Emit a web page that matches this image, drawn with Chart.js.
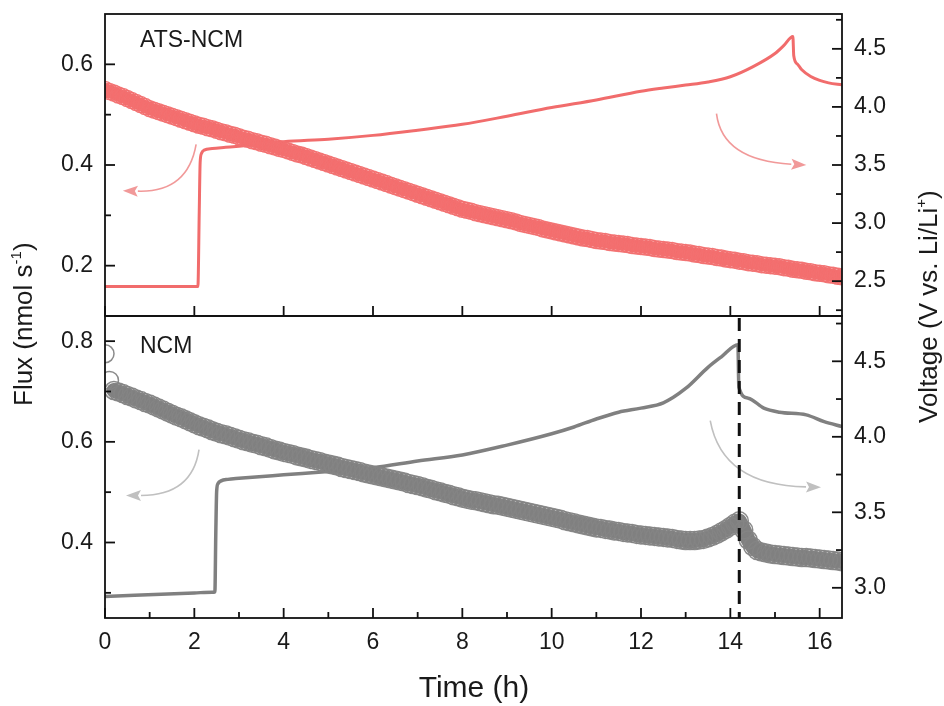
<!DOCTYPE html>
<html><head><meta charset="utf-8">
<script src="https://cdn.jsdelivr.net/npm/chart.js@4.4.1/dist/chart.umd.min.js"></script>
<style>
html,body{margin:0;padding:0;background:#fff;}
#wrap{position:relative;width:944px;height:706px;}
canvas{position:absolute;left:0;top:0;}
</style>
</head><body>
<div id="wrap"><canvas id="cTop" width="944" height="706"></canvas><canvas id="cBot" width="944" height="706"></canvas></div>
<script>
// ---------------- DATA ----------------
const TIME_FLUX = [
0,0.1,0.2,0.3,0.4,0.5,0.6,0.7,0.8,0.9,
1,1.1,1.2,1.3,1.4,1.5,1.6,1.7,1.8,1.9,
2,2.1,2.2,2.3,2.4,2.5,2.6,2.7,2.8,2.9,
3,3.1,3.2,3.3,3.4,3.5,3.6,3.7,3.8,3.9,
4,4.1,4.2,4.3,4.4,4.5,4.6,4.7,4.8,4.9,
5,5.1,5.2,5.3,5.4,5.5,5.6,5.7,5.8,5.9,
6,6.1,6.2,6.3,6.4,6.5,6.6,6.7,6.8,6.9,
7,7.1,7.2,7.3,7.4,7.5,7.6,7.7,7.8,7.9,
8,8.1,8.2,8.3,8.4,8.5,8.6,8.7,8.8,8.9,
9,9.1,9.2,9.3,9.4,9.5,9.6,9.7,9.8,9.9,
10,10.1,10.2,10.3,10.4,10.5,10.6,10.7,10.8,10.9,
11,11.1,11.2,11.3,11.4,11.5,11.6,11.7,11.8,11.9,
12,12.1,12.2,12.3,12.4,12.5,12.6,12.7,12.8,12.9,
13,13.1,13.2,13.3,13.4,13.5,13.6,13.7,13.8,13.9,
14,14.1,14.2,14.3,14.4,14.5,14.6,14.7,14.8,14.9,
15,15.1,15.2,15.3,15.4,15.5,15.6,15.7,15.8,15.9,
16,16.1,16.2,16.3,16.4,16.5];

const FLUX_ATS = [
0.550,0.546,0.543,0.539,0.536,0.532,0.528,0.524,0.520,0.516,
0.512,0.509,0.506,0.503,0.500,0.497,0.494,0.491,0.488,0.485,
0.482,0.479,0.477,0.474,0.472,0.469,0.466,0.464,0.461,0.459,
0.456,0.453,0.451,0.448,0.446,0.443,0.441,0.438,0.436,0.433,
0.431,0.428,0.425,0.422,0.420,0.417,0.414,0.411,0.408,0.405,
0.402,0.399,0.396,0.393,0.390,0.387,0.384,0.381,0.378,0.375,
0.372,0.369,0.366,0.363,0.360,0.357,0.354,0.351,0.348,0.345,
0.342,0.339,0.336,0.333,0.330,0.327,0.324,0.321,0.318,0.315,
0.312,0.310,0.308,0.305,0.303,0.301,0.299,0.297,0.295,0.293,
0.291,0.289,0.287,0.284,0.282,0.280,0.278,0.276,0.273,0.271,
0.269,0.267,0.265,0.263,0.261,0.259,0.257,0.255,0.254,0.252,
0.250,0.249,0.248,0.246,0.245,0.244,0.243,0.242,0.240,0.239,
0.238,0.237,0.236,0.234,0.233,0.232,0.231,0.230,0.228,0.227,
0.226,0.225,0.223,0.222,0.220,0.219,0.218,0.216,0.215,0.213,
0.212,0.211,0.209,0.208,0.206,0.205,0.204,0.202,0.201,0.200,
0.199,0.198,0.196,0.195,0.193,0.192,0.191,0.189,0.188,0.186,
0.185,0.184,0.182,0.181,0.179,0.178];

const FLUX_NCM = [
0.775,0.722,0.702,0.699,0.696,0.692,0.689,0.685,0.682,0.678,
0.675,0.671,0.667,0.663,0.659,0.655,0.651,0.648,0.644,0.640,
0.636,0.632,0.629,0.626,0.622,0.619,0.616,0.614,0.611,0.608,
0.605,0.602,0.600,0.597,0.595,0.592,0.590,0.587,0.584,0.582,
0.579,0.577,0.575,0.572,0.570,0.568,0.565,0.563,0.561,0.558,
0.556,0.554,0.552,0.549,0.547,0.545,0.543,0.541,0.538,0.536,
0.534,0.532,0.530,0.528,0.526,0.524,0.522,0.520,0.517,0.515,
0.513,0.511,0.508,0.506,0.503,0.501,0.498,0.496,0.493,0.491,
0.488,0.486,0.484,0.483,0.481,0.479,0.477,0.475,0.474,0.472,
0.470,0.468,0.466,0.464,0.462,0.460,0.458,0.456,0.454,0.452,
0.450,0.448,0.446,0.443,0.441,0.439,0.437,0.435,0.433,0.431,
0.429,0.428,0.426,0.425,0.423,0.422,0.420,0.419,0.418,0.416,
0.415,0.414,0.413,0.412,0.411,0.410,0.409,0.408,0.406,0.405,
0.404,0.404,0.404,0.405,0.406,0.409,0.412,0.416,0.421,0.426,
0.432,0.438,0.443,0.425,0.405,0.392,0.384,0.381,0.379,0.377,
0.376,0.375,0.374,0.373,0.372,0.371,0.370,0.370,0.369,0.368,
0.367,0.366,0.365,0.364,0.363,0.362];

const V_ATS_T = [0,2.0,2.08,2.11,2.13,2.16,2.22,2.4,2.7,3.0,3.5,4.0,5.0,6.0,7.0,8.0,9.0,10.0,11.0,12.0,12.5,13.0,13.5,14.0,14.5,15.0,15.2,15.4,15.42,15.5,15.6,15.8,16.0,16.2,16.5];
const V_ATS   = [2.455,2.455,2.455,3.10,3.52,3.60,3.628,3.642,3.652,3.662,3.68,3.70,3.722,3.755,3.80,3.85,3.92,3.995,4.06,4.135,4.163,4.188,4.215,4.26,4.345,4.46,4.53,4.607,4.44,4.37,4.32,4.262,4.228,4.207,4.19];

const V_NCM_T = [0,2.0,2.40,2.46,2.48,2.50,2.53,2.6,2.75,3.0,4.0,5.0,6.0,7.0,8.0,9.0,10.0,10.5,11.0,11.5,12.0,12.5,13.0,13.5,13.8,14.17,14.19,14.4,14.75,15.1,15.7,16.1,16.5];
const V_NCM   = [2.942,2.966,2.971,2.972,3.35,3.64,3.69,3.708,3.718,3.725,3.748,3.77,3.795,3.84,3.88,3.945,4.02,4.065,4.118,4.163,4.19,4.225,4.32,4.46,4.53,4.61,4.33,4.256,4.19,4.163,4.145,4.10,4.068];

const CUTOFF_TIME = 14.2;

const X_TICKS = [0,2,4,6,8,10,12,14,16];
const X_MINOR = [1,3,5,7,9,11,13,15];
const TOP_FLUX_TICKS = [0.2,0.4,0.6];
const TOP_FLUX_MINOR = [0.3,0.5];
const TOP_V_TICKS = [2.5,3.0,3.5,4.0,4.5];
const TOP_V_MINOR = [2.25,2.75,3.25,3.75,4.25,4.75];
const BOT_FLUX_TICKS = [0.4,0.6,0.8];
const BOT_FLUX_MINOR = [0.3,0.5,0.7];
const BOT_V_TICKS = [3.0,3.5,4.0,4.5];
const BOT_V_MINOR = [3.25,3.75,4.25,4.75];

// ---------------- STYLE ----------------
const FONT = "'Liberation Sans', Arial, Helvetica, sans-serif";
const RED = 'rgb(241,108,108)';
const RED_BAND = 'rgb(244,110,110)';
const RED_RING = 'rgba(242,112,112,0.95)';
const RED_ARROW = 'rgba(238,128,128,0.8)';
const GRAY = 'rgb(128,128,128)';
const GRAY_BAND = 'rgb(128,128,128)';
const GRAY_RING = 'rgba(132,132,132,0.95)';
const GRAY_ARROW = 'rgb(192,192,192)';

function pairs(xs, ys){ return xs.map((x,i)=>({x:x, y:ys[i]})); }

function drawArrow(ctx, xs, ys, a, color){
  const p0=[xs.getPixelForValue(a.x0), ys.getPixelForValue(a.y0)];
  const c=[xs.getPixelForValue(a.cx), ys.getPixelForValue(a.cy)];
  const p1=[xs.getPixelForValue(a.x1), ys.getPixelForValue(a.y1)];
  const ang=Math.atan2(p1[1]-c[1], p1[0]-c[0]);
  const L=15, W=5.5;
  const bx=p1[0]-L*Math.cos(ang), by=p1[1]-L*Math.sin(ang);
  ctx.save();
  ctx.strokeStyle=color; ctx.lineWidth=1.6;
  ctx.beginPath(); ctx.moveTo(p0[0],p0[1]); ctx.quadraticCurveTo(c[0],c[1],bx,by); ctx.stroke();
  ctx.fillStyle=color; ctx.beginPath();
  ctx.moveTo(p1[0],p1[1]);
  ctx.lineTo(bx+W*Math.sin(ang), by-W*Math.cos(ang));
  ctx.lineTo(bx+3*Math.cos(ang), by+3*Math.sin(ang));
  ctx.lineTo(bx-W*Math.sin(ang), by+W*Math.cos(ang));
  ctx.closePath(); ctx.fill();
  ctx.restore();
}

function drawRotated(ctx, parts, x, yStart){
  ctx.save();
  ctx.translate(x, yStart); ctx.rotate(-Math.PI/2);
  ctx.textAlign='left'; ctx.textBaseline='alphabetic'; ctx.fillStyle='#1a1a1a';
  let cx=0;
  parts.forEach(p=>{ ctx.font=p.size+'px '+FONT; ctx.fillText(p.t, cx, p.dy||0); cx+=ctx.measureText(p.t).width; });
  ctx.restore();
}

const panelPlugin = {
  id:'panel',
  afterDatasetsDraw(chart, args, o){
    const ctx=chart.ctx, ca=chart.chartArea;
    const xs=chart.scales.x, yl=chart.scales.yL, yr=chart.scales.yR;
    (o.arrows||[]).forEach(a=>drawArrow(ctx, xs, yl, a, o.arrowColor));
    ctx.save();
    if(o.cutoff!=null){
      const x=xs.getPixelForValue(o.cutoff);
      ctx.strokeStyle='#111'; ctx.lineWidth=3; ctx.setLineDash([13,8]);
      ctx.beginPath(); ctx.moveTo(x, ca.top+2); ctx.lineTo(x, ca.bottom); ctx.stroke();
      ctx.setLineDash([]);
    }
    ctx.strokeStyle='#111'; ctx.lineWidth=1.8;
    ctx.strokeRect(ca.left, ca.top, ca.right-ca.left, ca.bottom-ca.top);
    const seg=(x1,y1,x2,y2)=>{ctx.beginPath();ctx.moveTo(x1,y1);ctx.lineTo(x2,y2);ctx.stroke();};
    o.xMajor.forEach(v=>{const x=xs.getPixelForValue(v); seg(x,ca.bottom,x,ca.bottom-10);});
    (o.xMinor||[]).forEach(v=>{const x=xs.getPixelForValue(v); seg(x,ca.bottom,x,ca.bottom-6);});
    o.lMajor.forEach(v=>{const y=yl.getPixelForValue(v); seg(ca.left,y,ca.left+10,y);});
    o.lMinor.forEach(v=>{const y=yl.getPixelForValue(v); seg(ca.left,y,ca.left+6,y);});
    o.rMajor.forEach(v=>{const y=yr.getPixelForValue(v); seg(ca.right,y,ca.right-10,y);});
    o.rMinor.forEach(v=>{const y=yr.getPixelForValue(v); seg(ca.right,y,ca.right-6,y);});
    ctx.fillStyle='#1a1a1a'; ctx.font='23px '+FONT; ctx.textAlign='left'; ctx.textBaseline='alphabetic';
    ctx.fillText(o.label, ca.left+35, ca.top+o.labelDy);
    ctx.restore();
  },
  afterDraw(chart, args, o){
    if(!o.titles) return;
    const ctx=chart.ctx;
    drawRotated(ctx, [{t:'Flux (nmol s',size:26},{t:'-1',size:15,dy:-11},{t:')',size:26}], 32, 406);
    drawRotated(ctx, [{t:'Voltage (V vs. Li/Li',size:26},{t:'+',size:15,dy:-11},{t:')',size:26}], 937, 423);
    ctx.save(); ctx.fillStyle='#1a1a1a'; ctx.font='30px '+FONT; ctx.textAlign='center'; ctx.textBaseline='alphabetic';
    ctx.fillText('Time (h)', 474, 697); ctx.restore();
  }
};

function zeroPad(s){ s.paddingTop=0; s.paddingBottom=0; s.paddingLeft=0; s.paddingRight=0; }

function yScale(pos, min, max, ticks, width){
  return {
    type:'linear', position:pos, min:min, max:max,
    grid:{display:false, drawTicks:false}, border:{display:false},
    afterBuildTicks:s=>{ s.ticks=ticks.map(v=>({value:v})); },
    afterFit:s=>{ s.width=width; zeroPad(s); },
    ticks:{ padding:12, color:'#1a1a1a', font:{family:FONT, size:23}, callback:v=>Number(v).toFixed(1) }
  };
}

function makeChart(id, cfg){
  return new Chart(document.getElementById(id), {
    type:'scatter',
    data:{datasets:[
      {data:pairs(TIME_FLUX, cfg.flux), yAxisID:'yL', showLine:true, borderColor:cfg.band, borderWidth:cfg.bw,
       borderCapStyle:'round', borderJoinStyle:'round', tension:0,
       segment:{borderColor:c=>(cfg.skipStart && c.p0DataIndex<2) ? 'rgba(0,0,0,0)' : undefined},
       pointStyle:'circle', pointRadius:cfg.r, pointHoverRadius:cfg.r,
       pointBorderColor:cfg.ring, pointBackgroundColor:'rgba(0,0,0,0)', pointBorderWidth:1.5},
      {data:pairs(cfg.vt, cfg.v), yAxisID:'yR', showLine:true, pointRadius:0, borderColor:cfg.line, borderWidth:cfg.lw,
       cubicInterpolationMode:'monotone', fill:false}
    ]},
    options:{
      responsive:false, animation:false, devicePixelRatio:1, events:[],
      layout:{padding:cfg.padding},
      plugins:{legend:{display:false}, tooltip:{enabled:false}, panel:cfg.panel},
      scales:{
        x:cfg.x,
        yL:yScale('left', cfg.yl[0], cfg.yl[1], cfg.ylTicks, 105),
        yR:yScale('right', cfg.yr[0], cfg.yr[1], cfg.yrTicks, 102)
      }
    },
    plugins:[panelPlugin]
  });
}

makeChart('cTop', {
  flux:FLUX_ATS, vt:V_ATS_T, v:V_ATS, r:8, bw:13, band:RED_BAND, ring:RED_RING, line:RED, lw:3,
  padding:{top:14, bottom:390, left:0, right:0},
  x:{type:'linear', min:0, max:16.5, display:false, afterFit:zeroPad},
  yl:[0.1,0.7], ylTicks:TOP_FLUX_TICKS, yr:[2.2,4.8], yrTicks:TOP_V_TICKS,
  panel:{label:'ATS-NCM', labelDy:33, xMajor:X_TICKS, xMinor:[], lMajor:TOP_FLUX_TICKS, lMinor:TOP_FLUX_MINOR,
    rMajor:TOP_V_TICKS, rMinor:TOP_V_MINOR, arrowColor:RED_ARROW,
    arrows:[{x0:2.04,y0:0.441,cx:1.85,cy:0.345,x1:0.40,y1:0.349},{x0:13.69,y0:0.502,cx:13.82,cy:0.409,x1:15.70,y1:0.400}]}
});

makeChart('cBot', {
  flux:FLUX_NCM, vt:V_NCM_T, v:V_NCM, r:9, bw:15, band:GRAY_BAND, ring:GRAY_RING, line:GRAY, lw:3.5, skipStart:true,
  padding:{top:316, bottom:0, left:0, right:0},
  x:{type:'linear', position:'bottom', min:0, max:16.5,
     grid:{display:false, drawTicks:false}, border:{display:false},
     afterBuildTicks:s=>{ s.ticks=X_TICKS.map(v=>({value:v})); },
     afterFit:s=>{ s.height=88; zeroPad(s); },
     ticks:{padding:11, color:'#1a1a1a', font:{family:FONT, size:23}, maxRotation:0, callback:v=>String(v)}},
  yl:[0.25,0.85], ylTicks:BOT_FLUX_TICKS, yr:[2.8,4.8], yrTicks:BOT_V_TICKS,
  panel:{label:'NCM', labelDy:37, xMajor:X_TICKS, xMinor:X_MINOR, lMajor:BOT_FLUX_TICKS, lMinor:BOT_FLUX_MINOR,
    rMajor:BOT_V_TICKS, rMinor:BOT_V_MINOR, arrowColor:GRAY_ARROW, cutoff:CUTOFF_TIME, titles:true,
    arrows:[{x0:2.105,y0:0.5845,cx:1.95,cy:0.4935,x1:0.47,y1:0.4935},{x0:13.55,y0:0.642,cx:13.82,cy:0.513,x1:16.03,y1:0.51}]}
});
</script>
</body></html>
